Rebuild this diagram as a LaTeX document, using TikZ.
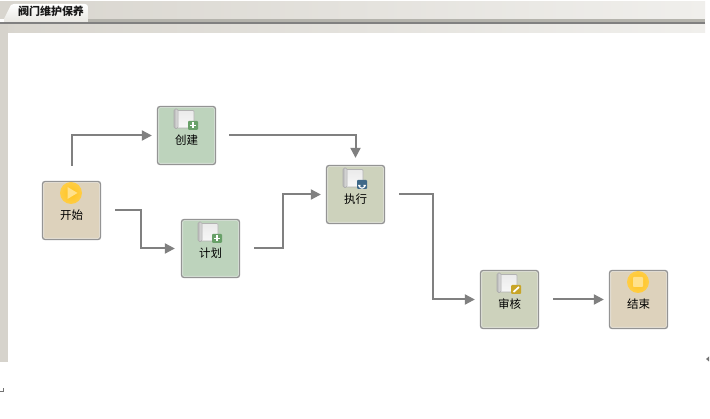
\documentclass[tikz,border=0pt]{standalone}
\usepackage{fontspec}
\setmainfont{Noto Sans CJK SC}
\usetikzlibrary{arrows.meta}
\definecolor{cgreen}{RGB}{189,211,188}
\definecolor{colive}{RGB}{205,210,188}
\definecolor{ctan}{RGB}{221,210,188}
\definecolor{bandl}{RGB}{216,213,206}
\definecolor{bandr}{RGB}{240,239,236}
\definecolor{rule}{RGB}{180,179,172}
\definecolor{side}{RGB}{214,211,204}
\definecolor{tabb}{RGB}{232,231,226}
\definecolor{badgeg}{RGB}{104,160,104}
\definecolor{badgeb}{RGB}{62,104,136}
\definecolor{badgey}{RGB}{200,165,40}
\definecolor{orbi}{RGB}{255,196,30}
\definecolor{orbo}{RGB}{255,205,70}
\definecolor{orbm}{RGB}{255,225,140}
\newcommand\lbl[1]{\raisebox{-9.5pt}[0pt][0pt]{#1}}
\tikzset{
  x=1pt,y=-1pt,
  tasknode/.style={draw=black!42,line width=1.3pt,rounded corners=2.5pt,minimum size=58pt,inner sep=0pt,font=\fontsize{11.5pt}{12pt}\selectfont,text=black,
    path picture={\draw[white,opacity=.45,line width=3pt] (path picture bounding box.south west) rectangle (path picture bounding box.north east);}},
  greenbox/.style={tasknode,fill=cgreen},
  olivebox/.style={tasknode,fill=colive},
  tanbox/.style={tasknode,fill=ctan},
  flow/.style={draw=black!50,line width=2pt,-{Triangle[length=10pt,width=10pt]}},
  scrollicon/.pic={
    \shade[top color=black!8,bottom color=black!3,draw=black!30,line width=.7pt,rounded corners=1pt] (-11,-25) rectangle (7.5,-7.5);
    \shade[left color=black!28,right color=black!8,draw=black!32,line width=.7pt,rounded corners=1.5pt] (-12.5,-26.5) rectangle (-8.5,-7);
  },
  plusbadge/.pic={
    \fill[badgeg,rounded corners=1pt] (1.5,-14.5) rectangle (11.5,-5.5);
    \draw[white,line width=1.7pt] (3.5,-10) -- (9.5,-10) (6.5,-13) -- (6.5,-7);
  },
  loopbadge/.pic={
    \fill[badgeb,rounded corners=1pt] (1.5,-14.5) rectangle (11.5,-5.5);
    \draw[white,line width=1.1pt] (3.8,-9) arc[start angle=180,end angle=0,radius=2.7];
    \fill[white] (2.4,-9.5) -- (5.2,-9.5) -- (3.8,-7) -- cycle (7.8,-9.5) -- (10.6,-9.5) -- (9.2,-7) -- cycle;
  },
  penbadge/.pic={
    \fill[badgey,rounded corners=1pt] (1.5,-14.5) rectangle (11.5,-5.5);
    \draw[white,line width=1.7pt] (4,-7.5) -- (9.5,-12.5);
  },
  orb/.pic={
    \shade[inner color=orbi,outer color=orbo] (0,0) circle[radius=11];
  },
}
\begin{document}
\begin{tikzpicture}
\useasboundingbox (0,0) rectangle (710,419);
\fill[white] (0,0) rectangle (710,419);
% window frame
\shade[left color=bandl,right color=bandr] (0,2) rectangle (705,19);
\shade[left color=bandl,right color=bandr] (0,24) rectangle (705,33);
\fill[rule] (88,19) rectangle (705,22);
\fill[black!50] (0,22) rectangle (705,24);
\fill[side] (0,24) rectangle (8,362);
\fill[black!55] (0,391) rectangle (4,392);
\fill[black!55] (3,388) rectangle (4,392);
\fill[black!55] (706,359) -- (709,356.5) -- (709,361.5) -- cycle;
% tab
\shade[top color=white,bottom color=tabb] (4,19) -- (11,5) to[out=20,in=180] (14,4) -- (85,4) to[out=0,in=90] (88,7) -- (88,22) -- (4,22) -- cycle;
\node[font=\fontsize{11pt}{12pt}\selectfont\bfseries,text=black!90,inner sep=0pt] (tabtitle) at (51,11.5) {阀门维护保养};
% nodes
\node[tanbox] (start) at (71.5,210.5) {\lbl{开始}};
\node[greenbox] (create) at (186.5,135.5) {\lbl{创建}};
\node[greenbox] (plan) at (210.5,248.5) {\lbl{计划}};
\node[olivebox] (exec) at (355.5,194.5) {\lbl{执行}};
\node[olivebox] (audit) at (509.5,299.5) {\lbl{审核}};
\node[tanbox] (finish) at (638.5,299.5) {\lbl{结束}};
% icons
\pic at (create.center) {scrollicon};
\pic at (create.center) {plusbadge};
\pic at (plan.center) {scrollicon};
\pic at (plan.center) {plusbadge};
\pic at (exec.center) {scrollicon};
\pic at (exec.center) {loopbadge};
\pic at (audit.center) {scrollicon};
\pic at (audit.center) {penbadge};
\pic at (71,193) {orb};
\fill[orbm] (67.5,187) -- (77.5,193) -- (67.5,199) -- cycle;
\pic at (638,282) {orb};
\fill[orbm,rounded corners=.8pt] (633,277) rectangle (643,287);
% connectors
\coordinate (bendA) at (141,230);
\coordinate (bendB) at (283,220);
\coordinate (bendC) at (433,250);
\draw[flow,shorten <=15pt,shorten >=5pt] (start.north) |- (create.west);
\draw[flow,shorten <=14pt,shorten >=6pt] (start.east) -| (bendA) |- (plan.west);
\draw[flow,shorten <=13pt,shorten >=7pt] (create.east) -| (exec.north);
\draw[flow,shorten <=14pt,shorten >=5pt] (plan.east) -| (bendB) |- (exec.west);
\draw[flow,shorten <=14pt,shorten >=5pt] (exec.east) -| (bendC) |- (audit.west);
\draw[flow,shorten <=14pt,shorten >=5pt] (audit.east) -- (finish.west);
\end{tikzpicture}
\end{document}
